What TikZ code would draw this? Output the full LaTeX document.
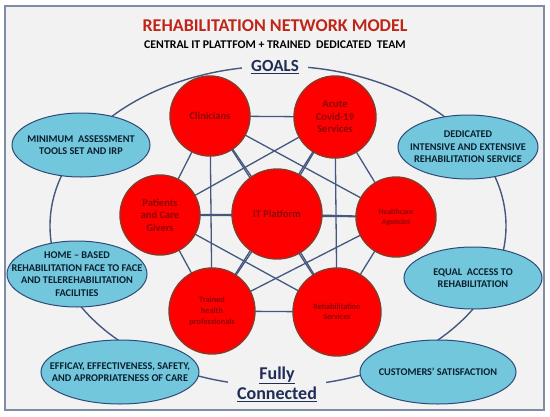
\documentclass[tikz,border=0pt]{standalone}
\usepackage{fontspec}
\setmainfont{Carlito}
\usetikzlibrary{shapes.geometric}
\definecolor{bgc}{HTML}{F2F2F2}
\definecolor{framec}{HTML}{7F8CA6}
\definecolor{linec}{HTML}{44587F}
\definecolor{redc}{HTML}{FF0000}
\definecolor{redborder}{HTML}{8A3A2A}
\definecolor{redtext}{HTML}{8A0808}
\definecolor{bluec}{HTML}{72C7DD}
\definecolor{blueborder}{HTML}{2E4A78}
\definecolor{bluetext}{HTML}{0B1F2E}
\definecolor{titlec}{HTML}{C0251A}
\definecolor{navy}{HTML}{1F2D57}
\pgfdeclarelayer{bg}
\pgfsetlayers{bg,main}
\tikzset{
  hub/.style={circle, fill=redc, draw=redborder, line width=1.4pt, inner sep=0pt,
    text=redtext, align=center},
  goal/.style={ellipse, fill=bluec, draw=blueborder, line width=1pt, inner sep=0pt},
  goaltext/.style={text=bluetext, font=\bfseries\fontsize{10.3}{12.5}\selectfont, align=center, inner sep=0pt},
  link/.style={draw=linec, line width=1.3pt},
  ring/.style={draw=linec, line width=1.4pt},
  label/.style={text=navy, fill=bgc, inner ysep=1pt}
}
\begin{document}
\begin{tikzpicture}[x=1pt,y=-1pt]
\useasboundingbox (0,0) rectangle (550,416);
\begin{pgfonlayer}{bg}
\fill[white] (0,0) rectangle (550,416);
\draw[framec, fill=bgc, line width=1.2pt] (5,6) rectangle (544,410);
\draw[ring] (278,226) ellipse [x radius=228, y radius=160];
\end{pgfonlayer}

% title
\node[text=titlec, font=\bfseries\fontsize{18}{20}\selectfont] (title) at (275,26) {REHABILITATION NETWORK MODEL};
\node[text=black, font=\bfseries\fontsize{11.8}{13}\selectfont] (sub) at (275,45) {CENTRAL IT PLATTFOM + TRAINED\ \ DEDICATED\ \ TEAM};
\node[label, font=\bfseries\fontsize{17}{19}\selectfont, inner xsep=9pt] (goals) at (275,67) {\underline{GOALS}};
\node[label, font=\bfseries\fontsize{18}{21}\selectfont, inner xsep=9pt, align=center] (fully) at (277,384) {\underline{Fully}\\[-1pt]\underline{Connected}};

% hubs
\node[hub, minimum size=80pt, font=\bfseries\fontsize{10.5}{12.5}\selectfont] (clin) at (210,116) {Clinicians};
\node[hub, minimum size=82pt, font=\bfseries\fontsize{10.5}{12.5}\selectfont] (acute) at (335,117) {Acute\\Covid-19\\Services};
\node[hub, minimum size=80pt, font=\bfseries\fontsize{10.5}{12.5}\selectfont] (pat) at (160,215) {Patients\\and Care\\Givers};
\node[hub, minimum size=90pt, font=\bfseries\fontsize{10.4}{12}\selectfont] (it) at (277,214) {IT Platform};
\node[hub, minimum size=80pt, font=\bfseries\fontsize{7.7}{10}\selectfont] (hc) at (396,217) {Healthcare\\Agencies};
\node[hub, minimum size=86pt, font=\bfseries\fontsize{8.3}{11}\selectfont] (tr) at (212,311) {Trained\\health\\professionals};
\node[hub, minimum size=88pt, font=\bfseries\fontsize{8.1}{10}\selectfont] (rs) at (337,312) {Rehabilitation\\Services};

\begin{pgfonlayer}{bg}
\foreach \a/\b in {clin/acute,clin/pat,clin/it,clin/hc,clin/tr,clin/rs,
  acute/pat,acute/it,acute/hc,acute/tr,acute/rs,
  pat/it,pat/hc,pat/tr,pat/rs,
  it/hc,it/tr,it/rs,
  hc/tr,hc/rs,
  tr/rs}
  \draw[link] (\a.center) -- (\b.center);
\end{pgfonlayer}

% goals ellipses
\node[goal, minimum width=138pt, minimum height=64pt] (mat) at (81,145) {};
\node[goaltext] (matt) at (mat.center) {MINIMUM\ \ ASSESSMENT\\TOOLS SET AND IRP};
\node[goal, minimum width=140pt, minimum height=64pt] (ded) at (468,147) {};
\node[goaltext] (dedt) at (ded.center) {DEDICATED\\INTENSIVE AND EXTENSIVE\\REHABILITATION SERVICE};
\node[goal, minimum width=140pt, minimum height=66pt] (home) at (77,274) {};
\node[goaltext] (homet) at (home.center) {HOME -- BASED\\REHABILITATION FACE TO FACE\\AND TELEREHABILITATION\\FACILITIES};
\node[goal, minimum width=138pt, minimum height=62pt] (equal) at (473,278) {};
\node[goaltext] (equalt) at (equal.center) {EQUAL\ \ ACCESS TO\\REHABILITATION};
\node[goal, minimum width=158pt, minimum height=64pt] (eff) at (120,372) {};
\node[goaltext] (efft) at (eff.center) {EFFICAY, EFFECTIVENESS, SAFETY,\\AND APROPRIATENESS OF CARE};
\node[goal, minimum width=156pt, minimum height=64pt] (cust) at (438,372) {};
\node[goaltext] (custt) at (cust.center) {CUSTOMERS’ SATISFACTION};
\end{tikzpicture}
\end{document}
